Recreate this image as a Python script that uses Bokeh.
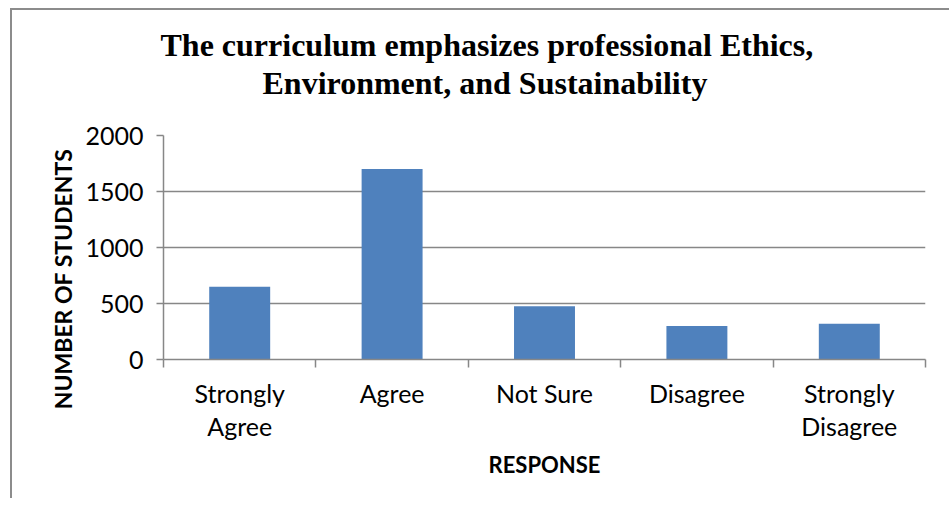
from bokeh.plotting import figure
from bokeh.models import Range1d, FixedTicker, Title
from bokeh.embed import file_html
from bokeh.resources import INLINE

# ---- data ----
categories = ["Strongly\nAgree", "Agree", "Not Sure", "Disagree", "Strongly\nDisagree"]
students = [650, 1700, 475, 300, 320]
y_ticks = [0, 500, 1000, 1500, 2000]
title_lines = ["The curriculum emphasizes professional Ethics,",
               "Environment, and Sustainability"]
y_label = "NUMBER OF STUDENTS"
x_label = "RESPONSE"

GRID = "#878787"
BAR = "#4F81BD"
SANS = "Lato"

n = len(categories)
centers = [i + 0.5 for i in range(n)]
bounds = [float(i) for i in range(n + 1)]

p = figure(width=939, height=490, output_backend="svg", toolbar_location=None,
           x_range=Range1d(0, n), y_range=Range1d(0, 2000),
           min_border_left=151, min_border_right=26,
           min_border_top=125, min_border_bottom=141)
p.outline_line_color = None
p.background_fill_color = "white"
p.border_fill_color = "white"
p.styles = {"margin-left": "10px", "margin-top": "8px",
            "border-left": "2px solid #8c8c8c", "border-top": "2px solid #8c8c8c"}

p.vbar(x=centers, top=students, width=0.4, fill_color=BAR, line_color=None)

# y axis
p.yaxis.ticker = FixedTicker(ticks=y_ticks)
p.yaxis.axis_line_color = GRID
p.yaxis.axis_line_width = 1.5
p.yaxis.major_tick_line_color = GRID
p.yaxis.major_tick_line_width = 1.5
p.yaxis.major_tick_out = 7
p.yaxis.major_tick_in = 0
p.yaxis.minor_tick_line_color = None
p.yaxis.major_label_text_font = SANS
p.yaxis.major_label_text_font_size = "25px"
p.yaxis.major_label_text_color = "black"
p.yaxis.major_label_standoff = 13

# y axis title, placed like the reference (shifted toward the bottom)
p.add_layout(Title(text=y_label, align="right", offset=13, standoff=12,
                   text_font=SANS, text_font_style="bold", text_font_size="23px",
                   text_color="black"), "left")

# x axis
p.xaxis.ticker = FixedTicker(ticks=centers, minor_ticks=bounds)
p.xaxis.major_label_overrides = {c: lab for c, lab in zip(centers, categories)}
p.xaxis.axis_line_color = GRID
p.xaxis.axis_line_width = 1.5
p.xaxis.major_tick_line_color = None
p.xaxis.minor_tick_line_color = GRID
p.xaxis.minor_tick_line_width = 1.5
p.xaxis.minor_tick_out = 8
p.xaxis.minor_tick_in = 0
p.xaxis.major_label_text_font = SANS
p.xaxis.major_label_text_font_size = "25px"
p.xaxis.major_label_text_line_height = 1.1
p.xaxis.major_label_text_color = "black"
p.xaxis.major_label_standoff = 10
p.xaxis.axis_label = x_label
p.xaxis.axis_label_text_font = SANS
p.xaxis.axis_label_text_font_size = "22px"
p.xaxis.axis_label_text_font_style = "bold"
p.xaxis.axis_label_text_color = "black"
p.xaxis.axis_label_standoff = 7

p.xgrid.grid_line_color = None
p.ygrid.ticker = FixedTicker(ticks=y_ticks)
p.ygrid.grid_line_color = GRID
p.ygrid.grid_line_width = 1.5

# spacer between the frame and the title block
p.add_layout(Title(text=" ", text_font_size="1px", standoff=32), "above")
# title: second line nearest the frame, first line above it
offsets = [-3, 99]
for i in [1, 0]:
    p.add_layout(Title(text=title_lines[i], align="left", offset=offsets[i],
                       standoff=0, text_font="Liberation Serif",
                       text_font_style="bold", text_font_size="32px",
                       text_color="black"), "above")

open("out.html", "w").write(file_html(p, INLINE))
